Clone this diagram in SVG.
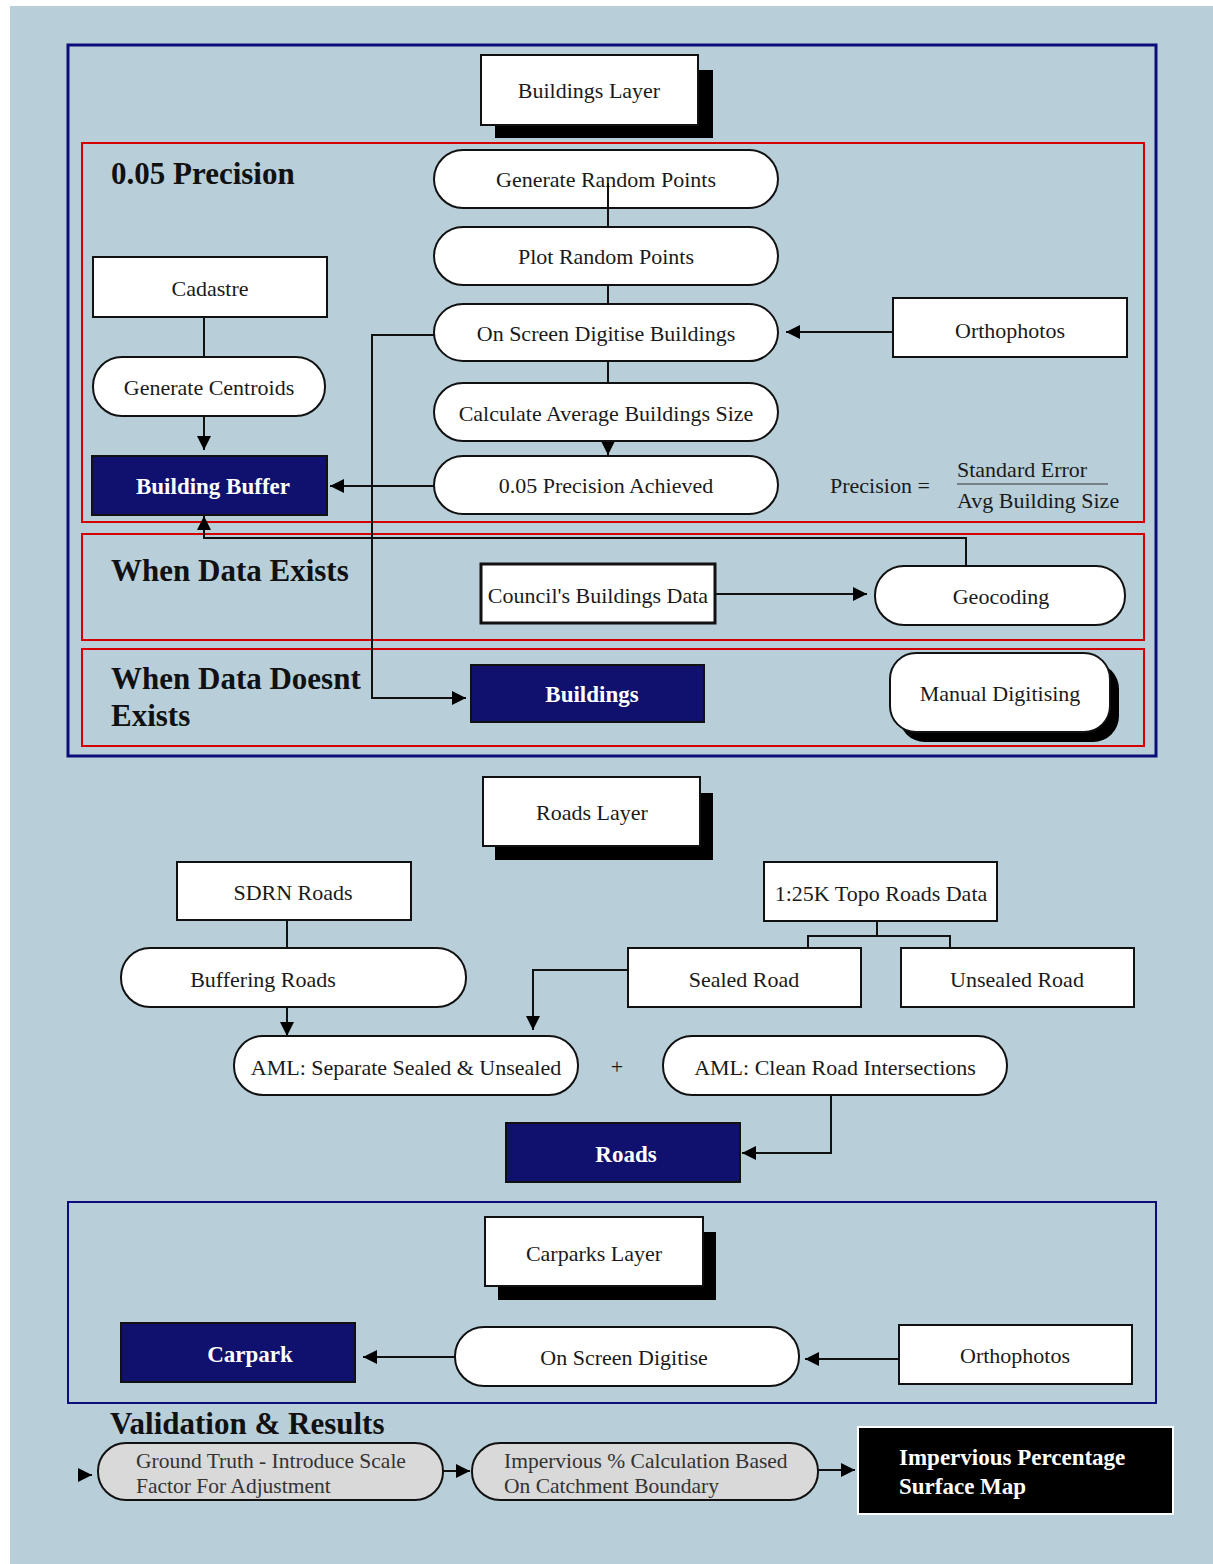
<svg xmlns="http://www.w3.org/2000/svg" width="1213" height="1564" viewBox="0 0 1213 1564">
<defs>
<style>
text{font-family:"Liberation Serif","Times New Roman",serif;fill:#1a1a1a;font-size:22px}
.c{text-anchor:middle}
.h{font-weight:bold;font-size:31px;fill:#111}
.w{fill:#fff;font-weight:bold;font-size:23px}
.g{fill:#333;font-size:21.5px}
.box{fill:#fff;stroke:#111;stroke-width:2}
.dk{fill:#10106e;stroke:#111;stroke-width:2}
.gr{fill:#d9d9d9;stroke:#111;stroke-width:2}
.sh{fill:#000}
.red{fill:none;stroke:#d40000;stroke-width:2}
.blue{fill:none;stroke:#0c0c7a;stroke-width:3}
.ln{fill:none;stroke:#111;stroke-width:2}
</style>
<marker id="ar" viewBox="0 0 10 10" refX="10" refY="5" markerWidth="14" markerHeight="14" markerUnits="userSpaceOnUse" orient="auto">
<path d="M0,0 L10,5 L0,10 z" fill="#000"/>
</marker>
</defs>
<rect x="0" y="0" width="1213" height="1564" fill="#fff"/>
<rect x="10" y="6" width="1203" height="1558" fill="#b8cfda"/>

<rect class="blue" x="68" y="45" width="1088" height="711"/>
<rect class="red" x="82" y="143" width="1062" height="379"/>
<rect class="red" x="82" y="534" width="1062" height="106"/>
<rect class="red" x="82" y="649" width="1062" height="97"/>
<rect class="blue" x="68" y="1202" width="1088" height="201" style="stroke-width:2"/>

<text class="h" x="111" y="184">0.05 Precision</text>
<text class="h" x="111" y="581">When Data Exists</text>
<text class="h" x="111" y="689">When Data Doesnt</text>
<text class="h" x="111" y="726">Exists</text>
<text class="h" x="110" y="1434">Validation &amp; Results</text>

<g id="connectors">
<path class="ln" d="M608,183 V227"/>
<path class="ln" d="M608,285 V304"/>
<path class="ln" d="M608,361 V383"/>
<path class="ln" d="M608,441 V455" marker-end="url(#ar)"/>
<path class="ln" d="M204,317 V357"/>
<path class="ln" d="M204,416 V450" marker-end="url(#ar)"/>
<path class="ln" d="M434,486 H330" marker-end="url(#ar)"/>
<path class="ln" d="M893,332 H786" marker-end="url(#ar)"/>
<path class="ln" d="M434,335 H372 V698 H466" marker-end="url(#ar)"/>
<path class="ln" d="M715,594 H867" marker-end="url(#ar)"/>
<path class="ln" d="M966,566 V538 H204 V516" marker-end="url(#ar)"/>
<path class="ln" d="M287,920 V948"/>
<path class="ln" d="M287,1007 V1036" marker-end="url(#ar)"/>
<path class="ln" d="M877,921 V936 M808,949 V936 H950 V949"/>
<path class="ln" d="M628,970 H533 V1030" marker-end="url(#ar)"/>
<path class="ln" d="M831,1095 V1153 H742" marker-end="url(#ar)"/>
<path class="ln" d="M455,1357 H363" marker-end="url(#ar)"/>
<path class="ln" d="M899,1359 H805" marker-end="url(#ar)"/>
<path class="ln" d="M78,1475 H92" marker-end="url(#ar)"/>
<path class="ln" d="M443,1471 H470" marker-end="url(#ar)"/>
<path class="ln" d="M818,1470 H855" marker-end="url(#ar)"/>
</g>

<g id="buildings-layer">
<rect class="sh" x="495" y="70" width="218" height="68"/>
<rect class="box" x="481" y="55" width="217" height="70"/>
<text class="c" x="589" y="98">Buildings Layer</text>
</g>
<g id="generate-random-points">
<rect class="box" x="434" y="150" width="344" height="58" rx="29"/>
<text class="c" x="606" y="187">Generate Random Points</text>
<path class="ln" d="M608,183 V208"/>
</g>
<g id="plot-random-points">
<rect class="box" x="434" y="227" width="344" height="58" rx="29"/>
<text class="c" x="606" y="264">Plot Random Points</text>
</g>
<g id="on-screen-digitise-buildings">
<rect class="box" x="434" y="304" width="344" height="57" rx="29"/>
<text class="c" x="606" y="341">On Screen Digitise Buildings</text>
</g>
<g id="calculate-average">
<rect class="box" x="434" y="383" width="344" height="58" rx="29"/>
<text class="c" x="606" y="421">Calculate Average Buildings Size</text>
</g>
<g id="precision-achieved">
<rect class="box" x="434" y="456" width="344" height="58" rx="29"/>
<text class="c" x="606" y="493">0.05 Precision Achieved</text>
</g>
<g id="cadastre">
<rect class="box" x="93" y="257" width="234" height="60"/>
<text class="c" x="210" y="296">Cadastre</text>
</g>
<g id="generate-centroids">
<rect class="box" x="93" y="357" width="232" height="59" rx="29"/>
<text class="c" x="209" y="395">Generate Centroids</text>
</g>
<g id="building-buffer">
<rect class="dk" x="92" y="456" width="235" height="59"/>
<text class="c w" x="213" y="494">Building Buffer</text>
</g>
<g id="orthophotos-1">
<rect class="box" x="893" y="298" width="234" height="59"/>
<text class="c" x="1010" y="338">Orthophotos</text>
</g>
<g id="precision-formula">
<text x="830" y="493">Precision =</text>
<text x="957" y="477">Standard Error</text>
<line x1="957" y1="484" x2="1108" y2="484" stroke="#333" stroke-width="1.2"/>
<text x="957" y="508">Avg Building Size</text>
</g>
<g id="councils-data">
<rect class="box" x="481" y="564" width="234" height="59" style="stroke-width:3"/>
<text class="c" x="598" y="603">Council's Buildings Data</text>
</g>
<g id="geocoding">
<rect class="box" x="875" y="566" width="250" height="59" rx="29"/>
<text class="c" x="1001" y="604">Geocoding</text>
</g>
<g id="buildings">
<rect class="dk" x="471" y="665" width="233" height="57"/>
<text class="c w" x="592" y="702">Buildings</text>
</g>
<g id="manual-digitising">
<rect class="sh" x="899" y="663" width="220" height="79" rx="26"/>
<rect class="box" x="890" y="653" width="220" height="79" rx="26"/>
<text class="c" x="1000" y="701">Manual Digitising</text>
</g>

<g id="roads-layer">
<rect class="sh" x="495" y="793" width="218" height="67"/>
<rect class="box" x="483" y="777" width="217" height="69"/>
<text class="c" x="592" y="820">Roads Layer</text>
</g>
<g id="sdrn-roads">
<rect class="box" x="177" y="862" width="234" height="58"/>
<text class="c" x="293" y="900">SDRN Roads</text>
</g>
<g id="topo-roads">
<rect class="box" x="764" y="862" width="233" height="59"/>
<text class="c" x="881" y="901">1:25K Topo Roads Data</text>
</g>
<g id="buffering-roads">
<rect class="box" x="121" y="948" width="345" height="59" rx="29"/>
<text class="c" x="263" y="987">Buffering Roads</text>
</g>
<g id="sealed-road">
<rect class="box" x="628" y="948" width="233" height="59"/>
<text class="c" x="744" y="987">Sealed Road</text>
</g>
<g id="unsealed-road">
<rect class="box" x="901" y="948" width="233" height="59"/>
<text class="c" x="1017" y="987">Unsealed Road</text>
</g>
<g id="aml-separate">
<rect class="box" x="234" y="1036" width="344" height="59" rx="29"/>
<text class="c" x="406" y="1075">AML: Separate Sealed &amp; Unsealed</text>
</g>
<text class="c" x="617" y="1074">+</text>
<g id="aml-clean">
<rect class="box" x="663" y="1036" width="344" height="59" rx="29"/>
<text class="c" x="835" y="1075">AML: Clean Road Intersections</text>
</g>
<g id="roads">
<rect class="dk" x="506" y="1123" width="234" height="59"/>
<text class="c w" x="626" y="1162">Roads</text>
</g>

<g id="carparks-layer">
<rect class="sh" x="498" y="1232" width="218" height="68"/>
<rect class="box" x="485" y="1217" width="218" height="69"/>
<text class="c" x="594" y="1261">Carparks Layer</text>
</g>
<g id="carpark">
<rect class="dk" x="121" y="1323" width="234" height="59"/>
<text class="c w" x="250" y="1362">Carpark</text>
</g>
<g id="on-screen-digitise">
<rect class="box" x="455" y="1327" width="344" height="59" rx="29"/>
<text class="c" x="624" y="1365">On Screen Digitise</text>
</g>
<g id="orthophotos-2">
<rect class="box" x="899" y="1325" width="233" height="59"/>
<text class="c" x="1015" y="1363">Orthophotos</text>
</g>

<g id="ground-truth">
<rect class="gr" x="98" y="1443" width="345" height="57" rx="28"/>
<text class="g" x="136" y="1468">Ground Truth - Introduce Scale</text>
<text class="g" x="136" y="1493">Factor For Adjustment</text>
</g>
<g id="impervious-calc">
<rect class="gr" x="472" y="1443" width="346" height="57" rx="28"/>
<text class="g" x="504" y="1468">Impervious % Calculation Based</text>
<text class="g" x="504" y="1493">On Catchment Boundary</text>
</g>
<g id="impervious-map">
<rect x="858" y="1427" width="315" height="87" fill="#000" stroke="#fff" stroke-width="2"/>
<text class="w" x="899" y="1465">Impervious Percentage</text>
<text class="w" x="899" y="1494">Surface Map</text>
</g>
</svg>
